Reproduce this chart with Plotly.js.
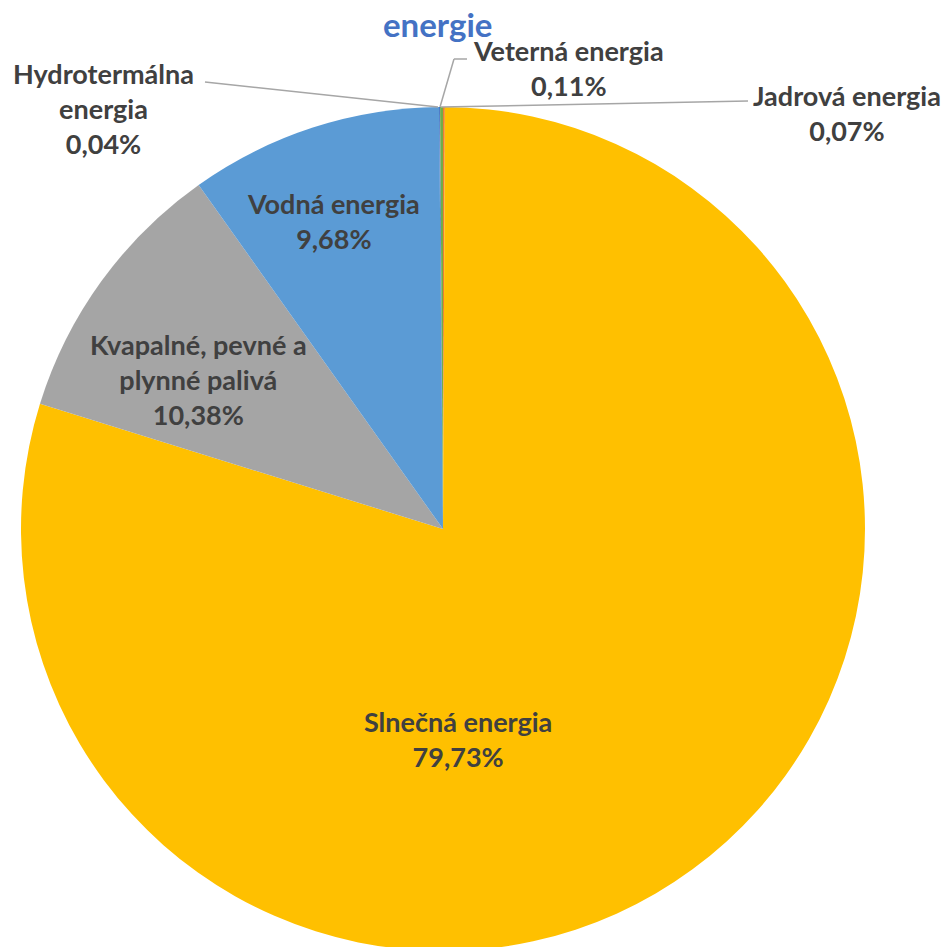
<!DOCTYPE html>
<html>
<head>
<meta charset="utf-8">
<script src="https://cdn.plot.ly/plotly-3.0.1.min.js"></script>
<style>
html,body{margin:0;padding:0;overflow:hidden;background:#fff;}
#chart{width:947px;height:1000px;}
</style>
</head>
<body>
<div id="chart"></div>
<script>
// Data (clockwise from 12 o'clock)
const categories = ["Jadrová energia", "Slnečná energia", "Kvapalné, pevné a plynné palivá", "Vodná energia", "Hydrotermálna energia", "Veterná energia"];
const labelLines = ["Jadrová energia", "Slnečná energia", "Kvapalné, pevné a<br>plynné palivá", "Vodná energia", "Hydrotermálna<br>energia", "Veterná energia"];
const values = [0.07, 79.73, 10.38, 9.68, 0.04, 0.11];
const colors = ["#ED7D31", "#FFC000", "#A5A5A5", "#5B9BD5", "#4472C4", "#70AD47"];
const titleText = "energie";

// Layout helpers (pixel -> paper)
const W = 947, H = 1000;
const px = x => x / W;
const py = y => 1 - y / H;

// Label positions (pixel centers) and leader lines
const labelPos = [[847, 113], [458, 739], [198, 379], [333, 221], [103, 109], [568, 68]];
const leaders = [
  [[441, 107], [748, 101]],
  [[438, 107], [205, 82]],
  [[440, 107], [454, 59], [467, 59]]
];

const fmt = v => v.toFixed(2).replace('.', ',') + '%';

const trace = {
  type: 'pie',
  labels: categories,
  values: values,
  sort: false,
  direction: 'clockwise',
  rotation: 0,
  marker: {colors: colors, line: {width: 0}},
  textinfo: 'none',
  hoverinfo: 'label+percent',
  domain: {x: [px(21), px(865)], y: [py(951), py(107)]},
  showlegend: false
};

const lblFont = {family: 'Lato, "Open Sans", sans-serif', size: 27, color: '#404040'};
const annotations = categories.map((c, i) => ({
  xref: 'paper', yref: 'paper',
  x: px(labelPos[i][0]), y: py(labelPos[i][1]),
  xanchor: 'center', yanchor: 'middle',
  text: '<b>' + labelLines[i] + '<br>' + fmt(values[i]) + '</b>',
  showarrow: false,
  font: lblFont,
  align: 'center'
}));
annotations.push({
  xref: 'paper', yref: 'paper', x: px(437), y: py(24),
  xanchor: 'center', yanchor: 'middle', showarrow: false,
  text: '<b>' + titleText + '</b>',
  font: {family: 'Lato, "Open Sans", sans-serif', size: 33, color: '#4472C4'}
});

const shapes = [];
leaders.forEach(pts => {
  for (let k = 0; k < pts.length - 1; k++) {
    shapes.push({type: 'line', xref: 'paper', yref: 'paper',
      x0: px(pts[k][0]), y0: py(pts[k][1]), x1: px(pts[k+1][0]), y1: py(pts[k+1][1]),
      line: {color: '#A6A6A6', width: 1.5}});
  }
});

const layout = {
  width: W, height: H,
  margin: {l: 0, r: 0, t: 0, b: 0},
  paper_bgcolor: '#ffffff',
  annotations: annotations,
  shapes: shapes
};

Plotly.newPlot('chart', [trace], layout, {displayModeBar: false, staticPlot: true});
</script>
</body>
</html>
